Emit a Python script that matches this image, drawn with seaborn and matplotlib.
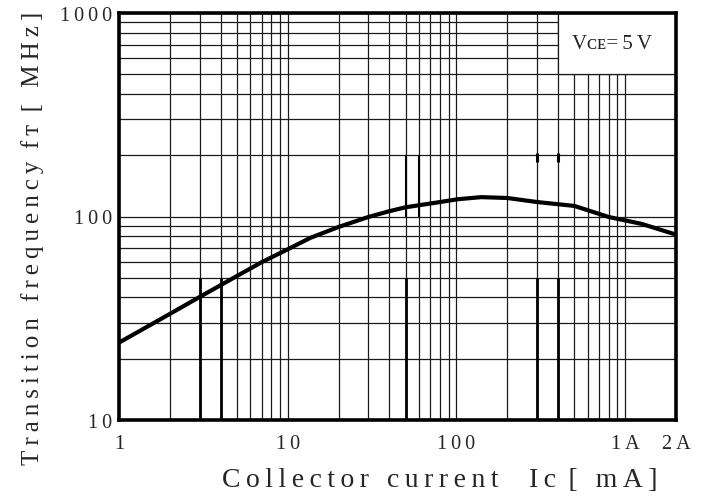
import matplotlib
matplotlib.use("Agg")
import matplotlib.pyplot as plt
from matplotlib.ticker import LogLocator, NullFormatter, FixedLocator, FixedFormatter
from matplotlib.patches import Rectangle
import seaborn as sns
import pandas as pd
import numpy as np

# ---- data ----
ic_ma = [1, 2, 3, 5, 7, 10, 13.6, 20, 30, 40, 50, 80, 102, 140, 200, 300, 500, 800, 1250, 2000]
ft_mhz = [24, 33.2, 40.2, 51, 59.6, 69, 78.5, 88.8, 99.4, 106.2, 111, 117.8, 121.6, 124.5, 123.3, 117.8, 112.7, 99.4, 92, 81.5]

x_ticks = [1, 10, 100, 1000, 2000]
x_ticklabels = ["1", "10", "100", "1A", "2A"]
y_ticks = [10, 100, 1000]
y_ticklabels = ["10", "100", "1000"]

# heavier grid segments visible in the scan
heavy_x = [3, 4, 50, 300, 400]
heavy_lo, heavy_hi = 10, 50
heavy2_x = [50, 60]
heavy2_lo, heavy2_hi = 100, 200
heavy3_x = [300, 400]
heavy3_lo, heavy3_hi = 185, 205

# legend box region (data coords)
box_x = (400, 2000)
box_y = (500, 1000)

df = pd.DataFrame({"Ic": ic_ma, "fT": ft_mhz})

SERIF = ["Liberation Serif", "DejaVu Serif"]
TS = "\u2009"


def track(s):
    """letter-spaced text, like the typewriter-ish scan"""
    return TS.join(s)


sns.set_style("white")
plt.rcParams["font.family"] = SERIF

fig = plt.figure(figsize=(7.08, 5.02), dpi=100)
ax = fig.add_axes([119 / 708, (502 - 421) / 502, 557 / 708, 407 / 502])

ax.set_xscale("log")
ax.set_yscale("log")
ax.set_xlim(1, 2000)
ax.set_ylim(10, 1000)

ax.xaxis.set_major_locator(FixedLocator(x_ticks))
ax.xaxis.set_major_formatter(FixedFormatter([track(t) for t in x_ticklabels]))
ax.xaxis.set_minor_locator(LogLocator(base=10, subs=np.arange(2, 10)))
ax.xaxis.set_minor_formatter(NullFormatter())
ax.yaxis.set_major_locator(FixedLocator(y_ticks))
ax.yaxis.set_major_formatter(FixedFormatter([track(t) for t in y_ticklabels]))
ax.yaxis.set_minor_locator(LogLocator(base=10, subs=np.arange(2, 10)))
ax.yaxis.set_minor_formatter(NullFormatter())

ax.grid(True, which="both", color="#1a1a1a", lw=0.9, zorder=1)
ax.set_axisbelow(True)
ax.tick_params(which="both", length=0)
ax.tick_params(axis="x", pad=10, labelsize=14.5)
ax.tick_params(axis="y", pad=5, labelsize=14.5)

for s in ax.spines.values():
    s.set_linewidth(2.6)
    s.set_color("black")
    s.set_zorder(6)

ax.vlines(heavy_x, heavy_lo, heavy_hi, color="black", lw=2.0, zorder=2)
ax.vlines(heavy2_x, heavy2_lo, heavy2_hi, color="black", lw=1.5, zorder=2)
ax.vlines(heavy3_x, heavy3_lo, heavy3_hi, color="black", lw=2.2, zorder=2)

ax.add_patch(Rectangle((box_x[0], box_y[0]), box_x[1] - box_x[0], box_y[1] - box_y[0],
                       facecolor="white", edgecolor="#1a1a1a", lw=0.9, zorder=3))

sns.lineplot(data=df, x="Ic", y="fT", ax=ax, color="black", lw=3.0, zorder=5)

# V_CE = 5V annotation (small-capital CE as in the scan)
ax.text((612 - 119) / 557, (421 - 44) / 407, "V\u1d04\u1d07=" + TS + "5" + TS + "V",
        transform=ax.transAxes, fontsize=15, family=SERIF, zorder=7,
        ha="center", va="center")

ax.set_xlabel(track("Collector current") + "  " + TS * 3 + track("Ic") + " " + TS + track("[ mA]"),
              fontsize=20)
ax.xaxis.set_label_coords((440 - 119) / 557, -47 / 407)
ax.set_ylabel(track("Transition frequency") + "  " + track("f\u1d1b") + "  " + track("[ MHz]"),
              fontsize=18)
ax.yaxis.set_label_coords((44 - 119) / 557, (421 - 238) / 407)

fig.savefig("out.png", dpi=100)
